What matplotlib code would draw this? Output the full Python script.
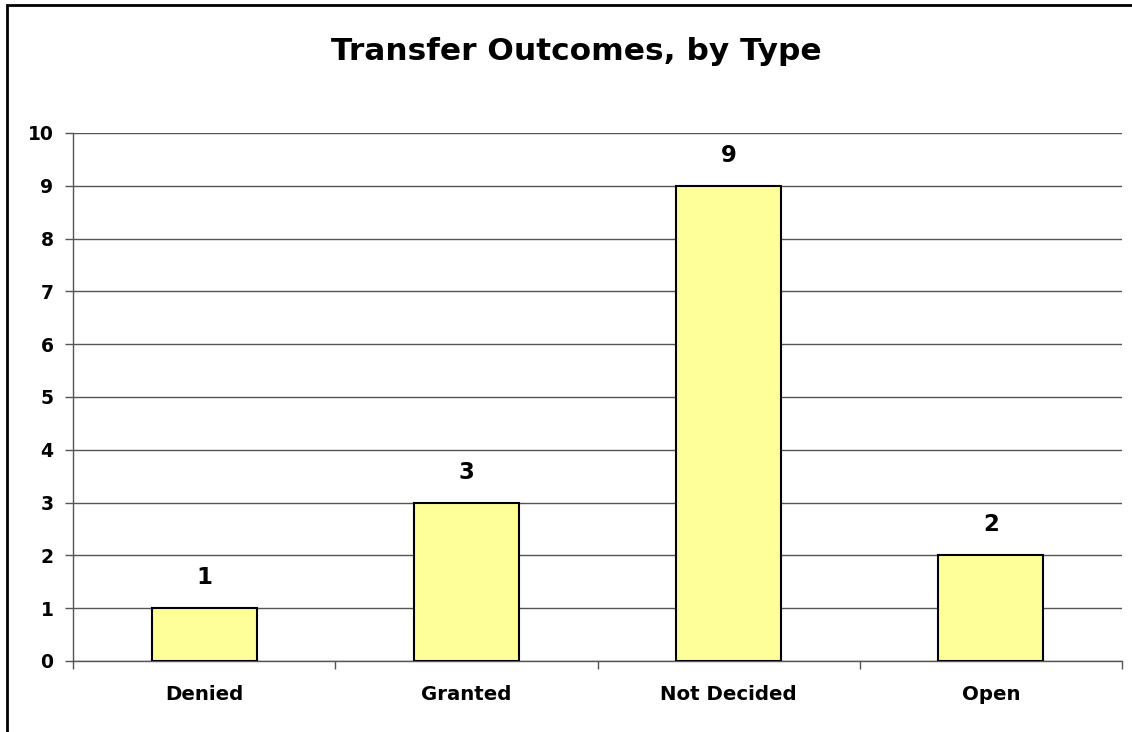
import matplotlib
matplotlib.use("Agg")
import matplotlib.pyplot as plt
from matplotlib.patches import Rectangle

categories = ["Denied", "Granted", "Not Decided", "Open"]
values = [1, 3, 9, 2]
yticks = list(range(0, 11))

plt.rcParams['font.family'] = ['DejaVu Sans']

fig = plt.figure(figsize=(11.32, 7.32), dpi=100)
ax = fig.add_axes([73/1132, 1 - 661/732, (1122-73)/1132, (661-133)/732])

x = list(range(len(categories)))
ax.bar(x, values, width=0.4, color="#FFFF99", edgecolor="black", linewidth=1.5, zorder=3)
for xi, v in zip(x, values):
    ax.text(xi, v + 0.36, str(v), ha="center", va="bottom", fontsize=16.5, fontweight="bold")

ax.set_xlim(-0.5, len(categories) - 0.5)
ax.set_ylim(0, 10)
ax.set_yticks(yticks)
ax.set_yticklabels([str(t) for t in yticks], fontsize=13.5, fontweight="bold")
ax.yaxis.grid(True, color="#555555", linewidth=1, zorder=0)
ax.set_xticks(x)
ax.set_xticklabels(categories, fontsize=14.2, fontweight="bold")
ax.tick_params(axis="x", length=0, pad=17)
ax.tick_params(axis="y", length=6, width=1, color="#555555", pad=8)
ax.set_xticks([i - 0.5 for i in range(len(categories) + 1)], minor=True)
ax.tick_params(axis="x", which="minor", length=6, width=1, color="#555555")
for s in ["top", "right"]:
    ax.spines[s].set_visible(False)
for s in ["left", "bottom"]:
    ax.spines[s].set_color("#555555")
    ax.spines[s].set_linewidth(1)

fig.text(576/1132, 1 - 52/732, "Transfer Outcomes, by Type", ha="center", va="center",
         fontsize=22.5, fontweight="bold")

fig.patches.append(Rectangle((7/1132, -0.1), 1.2, 1 - 5/732 + 0.1, transform=fig.transFigure,
                             fill=False, edgecolor="black", linewidth=2, zorder=10))

fig.savefig("out.png", dpi=100)
